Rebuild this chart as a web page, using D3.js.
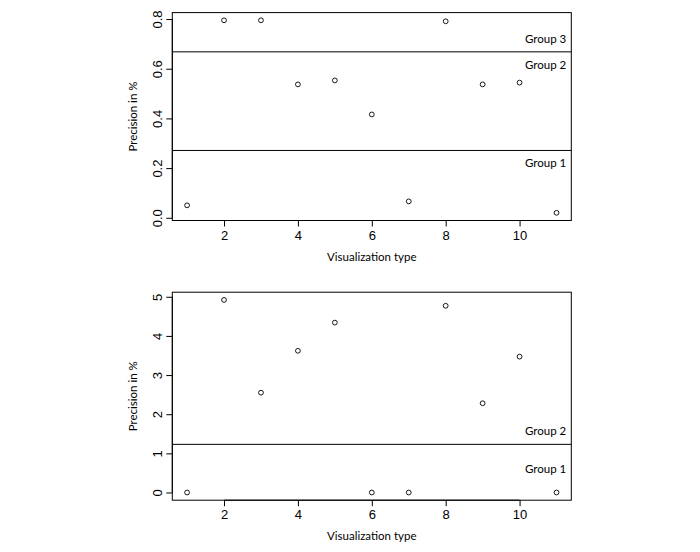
<!DOCTYPE html>
<html>
<head>
	<meta charset="utf-8">
	<title>Precision by visualization type</title>
	<style>
		html, body {
			margin: 0;
			padding: 0;
			background: #fff;
		}
		.tick text {
			font-family: 'Liberation Sans', Arial, sans-serif;
			font-size: 13px;
			fill: #000;
		}
		.title, .group {
			font-family: Lato, 'Open Sans', sans-serif;
			font-size: 11.5px;
			fill: #000;
		}
	</style>
</head>
<body>
	<svg id="chart" width="700" height="552"></svg>

	<script src="https://cdnjs.cloudflare.com/ajax/libs/d3/7.8.5/d3.min.js"></script>
	<script>
		// data
		var types = [1, 2, 3, 4, 5, 6, 7, 8, 9, 10, 11];
		var precisionTop = [0.05, 0.795, 0.795, 0.537, 0.553, 0.416, 0.066, 0.791, 0.537, 0.544, 0.02];
		var precisionBottom = [0, 4.92, 2.55, 3.62, 4.34, 0, 0, 4.77, 2.28, 3.47, 0];
		var cutsTop = [0.271, 0.668];
		var cutsBottom = [1.23];
		var groupsTop = ['Group 1', 'Group 2', 'Group 3'];
		var groupYTop = [0.22, 0.614, 0.72];
		var groupsBottom = ['Group 1', 'Group 2'];
		var groupYBottom = [0.59, 1.58];
		var xTicks = [2, 4, 6, 8, 10];
		var yTicksTop = [0, 0.2, 0.4, 0.6, 0.8];
		var yTicksBottom = [0, 1, 2, 3, 4, 5];

		var svg = d3.select('#chart');

		// R-style range: data extent padded by 4% each side
		function pad(ext) {
			var d = (ext[1] - ext[0]) * 0.04;
			return [ext[0] - d, ext[1] + d];
		}

		function panel(opts) {
			var left = 172.3, right = 571.3;
			var x = d3.scaleLinear().domain(pad(d3.extent(types))).range([left, right]);
			var y = d3.scaleLinear().domain(pad(d3.extent(opts.values))).range([opts.bottom, opts.top]);
			var g = svg.append('g');

			// group cut lines
			g.selectAll('line.cut')
				.data(opts.cuts)
				.join('line')
				.attr('class', 'cut')
				.attr('x1', left).attr('x2', right)
				.attr('y1', function(d) { return y(d); })
				.attr('y2', function(d) { return y(d); })
				.attr('stroke', '#000').attr('stroke-width', 1);

			g.selectAll('text.group')
				.data(opts.groups)
				.join('text')
				.attr('class', 'group')
				.attr('x', right - 5)
				.attr('y', function(d, i) { return y(opts.groupY[i]); })
				.attr('dy', '0.35em')
				.attr('text-anchor', 'end')
				.text(function(d) { return d; });

			// points
			g.selectAll('circle')
				.data(opts.values)
				.join('circle')
				.attr('cx', function(d, i) { return x(types[i]); })
				.attr('cy', function(d) { return y(d); })
				.attr('r', 2.4)
				.attr('fill', 'none')
				.attr('stroke', '#000')
				.attr('stroke-width', 0.9);

			// box
			g.append('rect')
				.attr('x', left).attr('y', opts.top)
				.attr('width', right - left).attr('height', opts.bottom - opts.top)
				.attr('fill', 'none').attr('stroke', '#000').attr('stroke-width', 1);

			// axes
			var xAxis = g.append('g')
				.attr('transform', 'translate(0,' + opts.bottom + ')')
				.call(d3.axisBottom(x).tickValues(xTicks).tickSize(6).tickPadding(4).tickFormat(d3.format('d')));
			xAxis.select('.domain').attr('d', 'M' + x(xTicks[0]) + ',0H' + x(xTicks[xTicks.length - 1]));

			var yAxis = g.append('g')
				.attr('transform', 'translate(' + left + ',0)')
				.call(d3.axisLeft(y).tickValues(opts.yTicks).tickSize(6).tickFormat(d3.format(opts.fmt)));
			yAxis.select('.domain').attr('d', 'M0,' + y(opts.yTicks[0]) + 'V' + y(opts.yTicks[opts.yTicks.length - 1]));
			yAxis.selectAll('.tick text')
				.attr('x', 0).attr('dy', 0)
				.attr('text-anchor', 'middle')
				.attr('transform', 'translate(-15,0) rotate(-90)')
				.attr('dy', '0.35em');

			// titles
			g.append('text')
				.attr('class', 'title')
				.attr('x', (left + right) / 2)
				.attr('y', opts.bottom + 40)
				.attr('text-anchor', 'middle')
				.text('Visualization type');

			g.append('text')
				.attr('class', 'title')
				.attr('transform', 'translate(137,' + (opts.top + opts.bottom) / 2 + ') rotate(-90)')
				.attr('text-anchor', 'middle')
				.text('Precision in %');
		}

		panel({ values: precisionTop, cuts: cutsTop, groups: groupsTop, groupY: groupYTop,
			yTicks: yTicksTop, fmt: '.1f', top: 12.6, bottom: 220.5 });
		panel({ values: precisionBottom, cuts: cutsBottom, groups: groupsBottom, groupY: groupYBottom,
			yTicks: yTicksBottom, fmt: 'd', top: 292.2, bottom: 500.2 });
	</script>
</body>
</html>
